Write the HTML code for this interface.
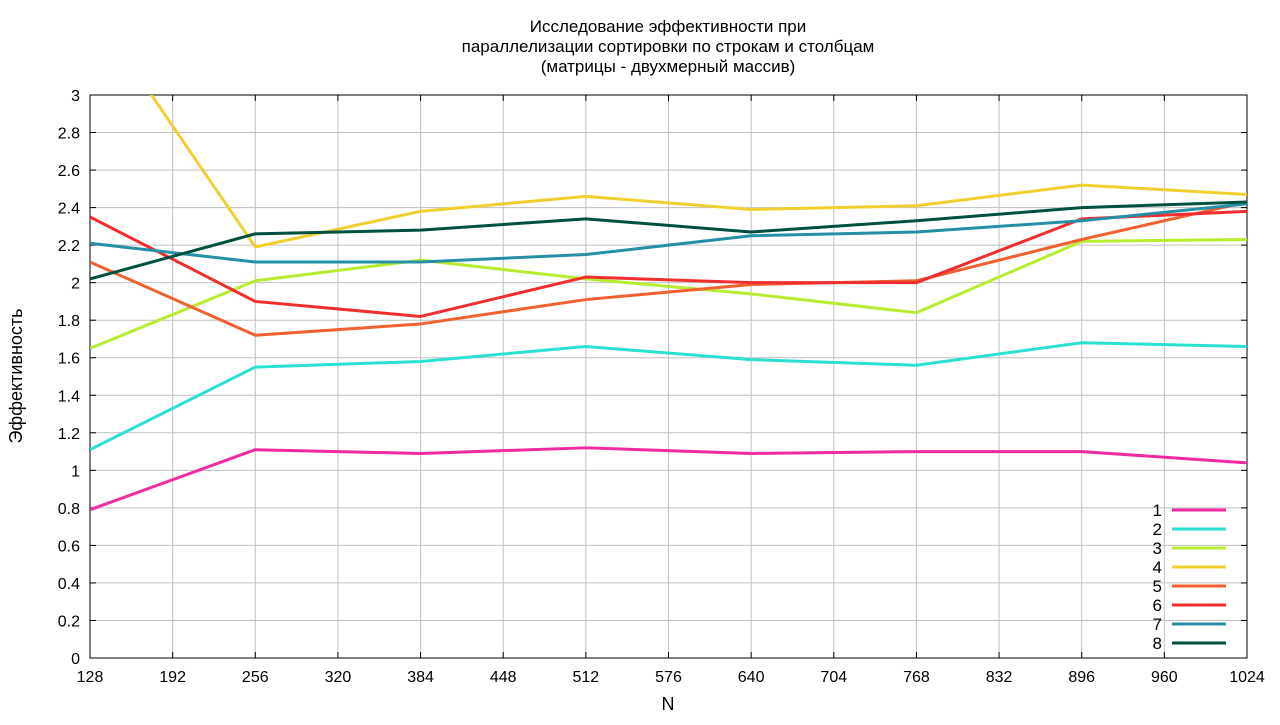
<!DOCTYPE html>
<html><head><meta charset="utf-8"><style>
html,body{margin:0;padding:0;background:#fff;}
svg text{font-family:"Liberation Sans","DejaVu Sans",sans-serif;font-size:16px;fill:#000;}
</style></head><body>
<svg id="chart" width="1280" height="720" xmlns="http://www.w3.org/2000/svg">
<defs><clipPath id="clip"><rect x="90" y="95" width="1157" height="563"/></clipPath></defs>
<g style="font-size:17px">
<text x="668" y="32" text-anchor="middle" style="font-size:17px">Исследование эффективности при</text>
<text x="668" y="52" text-anchor="middle" style="font-size:17px">параллелизации сортировки по строкам и столбцам</text>
<text x="668" y="72" text-anchor="middle" style="font-size:17px">(матрицы - двухмерный массив)</text>
</g>
<g id="grid"></g>
<g id="axes"></g>
<g id="series" clip-path="url(#clip)"></g>
<g id="legend"></g>
<text x="668" y="710" text-anchor="middle" style="font-size:18px">N</text>
<text transform="translate(22,376) rotate(-90)" text-anchor="middle" style="font-size:18px">Эффективность</text>
</svg>
<script>
const categories = [128,256,384,512,640,768,896,1024];
const xTicks = [128,192,256,320,384,448,512,576,640,704,768,832,896,960,1024];
const yTicks = [0,0.2,0.4,0.6,0.8,1,1.2,1.4,1.6,1.8,2,2.2,2.4,2.6,2.8,3];
const seriesNames = ["1","2","3","4","5","6","7","8"];
const s1 = [0.79,1.11,1.09,1.12,1.09,1.10,1.10,1.04];
const s2 = [1.11,1.55,1.58,1.66,1.59,1.56,1.68,1.66];
const s3 = [1.65,2.01,2.12,2.02,1.94,1.84,2.22,2.23];
const s4 = [3.48,2.19,2.38,2.46,2.39,2.41,2.52,2.47];
const s5 = [2.11,1.72,1.78,1.91,1.99,2.01,2.23,2.43];
const s6 = [2.35,1.90,1.82,2.03,2.00,2.00,2.34,2.38];
const s7 = [2.21,2.11,2.11,2.15,2.25,2.27,2.33,2.42];
const s8 = [2.02,2.26,2.28,2.34,2.27,2.33,2.40,2.43];
const allSeries = [s1,s2,s3,s4,s5,s6,s7,s8];
const colors = ["#f02aa0","#2ae0d2","#b8ec30","#f0d030","#f06030","#f02e30","#2590a5","#005040"];
const L=90,R=1247,T=95,B=658;
const x = v => L + (v-128)/(1024-128)*(R-L);
const y = v => B - v/3*(B-T);
const NS="http://www.w3.org/2000/svg";
function mk(tag, parent, attrs){const e=document.createElementNS(NS,tag);for(const k in attrs)e.setAttribute(k,attrs[k]);parent.appendChild(e);return e;}
const grid=document.getElementById('grid'), axes=document.getElementById('axes');
xTicks.forEach(t=>{
  const gl=mk('line',grid,{x1:x(t),x2:x(t),y1:T,y2:B,stroke:'#c0c0c0','stroke-width':1});
  
  
  mk('line',axes,{x1:x(t),x2:x(t),y1:B,y2:B-6,stroke:'#000'});
  mk('line',axes,{x1:x(t),x2:x(t),y1:T,y2:T+6,stroke:'#000'});
  const tx=mk('text',axes,{x:x(t),y:B+24,'text-anchor':'middle'});
  tx.textContent=t;
  
  
});
yTicks.forEach(t=>{
  const gl=mk('line',grid,{x1:L,x2:R,y1:y(t),y2:y(t),stroke:'#c0c0c0','stroke-width':1});
  
  
  mk('line',axes,{x1:L,x2:L+6,y1:y(t),y2:y(t),stroke:'#000'});
  mk('line',axes,{x1:R,x2:R-6,y1:y(t),y2:y(t),stroke:'#000'});
  const tx=mk('text',axes,{x:L-10,y:y(t)+6,'text-anchor':'end'});
  tx.textContent=String(t);
  
  
});
const frame=mk('rect',axes,{x:L,y:T,width:R-L,height:B-T,fill:'none',stroke:'#000','stroke-width':1});


const sg=document.getElementById('series'), lg=document.getElementById('legend');
allSeries.forEach((s,i)=>{
  const pts=s.map((v,j)=>x(categories[j])+','+y(v)).join(' ');
  const pl=mk('polyline',sg,{points:pts,fill:'none',stroke:colors[i],'stroke-width':3,'stroke-linejoin':'round'});
  
  
  const ly=510+i*19;
  const lt=mk('text',lg,{x:1162,y:ly+6,'text-anchor':'end',style:'font-size:17px'});
  lt.textContent=seriesNames[i];
  
  
  const ll=mk('line',lg,{x1:1172,x2:1226,y1:ly,y2:ly,stroke:colors[i],'stroke-width':3});
  
  
});
</script>
</body></html>
